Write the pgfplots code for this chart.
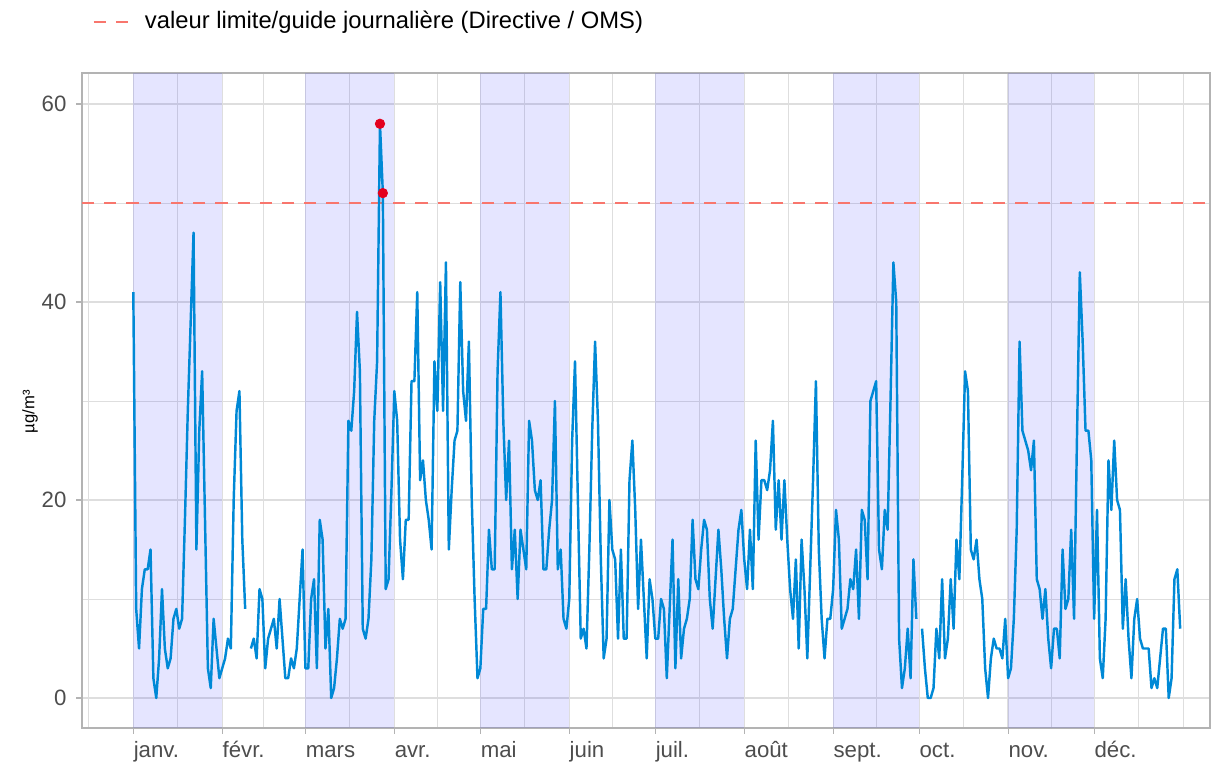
\documentclass[border=0pt]{standalone}
\usepackage{fontspec}
\setmainfont{Liberation Sans}
\usepackage{pgfplots}
\pgfplotsset{compat=1.18}
\usepackage{pgfplotstable}
\definecolor{lineblue}{RGB}{0,137,214}
\definecolor{gridc}{RGB}{222,222,222}
\definecolor{borderc}{RGB}{179,179,179}
\definecolor{limitc}{RGB}{248,118,109}
\definecolor{peakc}{RGB}{228,0,30}
\definecolor{ticklab}{RGB}{77,77,77}

\pgfplotstableread{
day val
0 41
1 9
2 5
3 11
4 13
5 13
6 15
7 2
8 0
9 4
10 11
11 5
12 3
13 4
14 8
15 9
16 7
17 8
18 18
19 29
20 38
21 47
22 15
23 27
24 33
25 18
26 3
27 1
28 8
29 5
30 2
31 3
32 4
33 6
34 5
35 20
36 29
37 31
38 16
39 9
40 nan
41 5
42 6
43 4
44 11
45 10
46 3
47 6
48 7
49 8
50 5
51 10
52 6
53 2
54 2
55 4
56 3
57 5
58 10
59 15
60 3
61 3
62 10
63 12
64 3
65 18
66 16
67 5
68 9
69 0
70 1
71 4
72 8
73 7
74 8
75 28
76 27
77 31
78 39
79 33
80 7
81 6
82 8
83 14
84 28
85 34
86 58
87 51
88 11
89 12
90 21
91 31
92 28
93 16
94 12
95 18
96 18
97 32
98 32
99 41
100 22
101 24
102 20
103 18
104 15
105 34
106 29
107 42
108 29
109 44
110 15
111 21
112 26
113 27
114 42
115 31
116 28
117 36
118 20
119 10
120 2
121 3
122 9
123 9
124 17
125 13
126 13
127 33
128 41
129 28
130 20
131 26
132 13
133 17
134 10
135 17
136 15
137 13
138 28
139 26
140 21
141 20
142 22
143 13
144 13
145 17
146 20
147 30
148 13
149 15
150 8
151 7
152 10
153 26
154 34
155 20
156 6
157 7
158 5
159 15
160 27
161 36
162 28
163 14
164 4
165 6
166 20
167 15
168 14
169 6
170 15
171 6
172 6
173 22
174 26
175 19
176 9
177 16
178 10
179 4
180 12
181 10
182 6
183 6
184 10
185 9
186 2
187 9
188 16
189 3
190 12
191 4
192 7
193 8
194 10
195 18
196 12
197 11
198 15
199 18
200 17
201 10
202 7
203 12
204 17
205 13
206 8
207 4
208 8
209 9
210 13
211 17
212 19
213 14
214 11
215 17
216 11
217 26
218 16
219 22
220 22
221 21
222 23
223 28
224 17
225 22
226 16
227 22
228 16
229 11
230 8
231 14
232 5
233 16
234 11
235 4
236 13
237 22
238 32
239 15
240 8
241 4
242 8
243 8
244 11
245 19
246 16
247 7
248 8
249 9
250 12
251 11
252 15
253 8
254 19
255 18
256 12
257 30
258 31
259 32
260 15
261 13
262 19
263 17
264 30
265 44
266 40
267 6
268 1
269 3
270 7
271 2
272 14
273 8
274 nan
275 7
276 3
277 0
278 0
279 1
280 7
281 4
282 12
283 4
284 6
285 12
286 7
287 16
288 12
289 22
290 33
291 31
292 15
293 14
294 16
295 12
296 10
297 3
298 0
299 4
300 6
301 5
302 5
303 4
304 8
305 2
306 3
307 8
308 17
309 36
310 27
311 26
312 25
313 23
314 26
315 12
316 11
317 8
318 11
319 6
320 3
321 7
322 7
323 4
324 15
325 9
326 10
327 17
328 8
329 26
330 43
331 36
332 27
333 27
334 24
335 8
336 19
337 4
338 2
339 8
340 24
341 19
342 26
343 20
344 19
345 7
346 12
347 6
348 2
349 8
350 10
351 6
352 5
353 5
354 5
355 1
356 2
357 1
358 4
359 7
360 7
361 0
362 2
363 12
364 13
365 7
}\data

\pgfplotstableread{
x0 x1
0 31
60 91
121 152
182 213
244 274
305 335
}\bands

\begin{document}
\begin{tikzpicture}[x=1pt,y=1pt]
\useasboundingbox (0,0) rectangle (548.1,343.35);
\begin{axis}[
  at={(36.9pt,15.75pt)}, anchor=south west,
  scale only axis, width=507.6pt, height=294.75pt,
  xmin=-17.89, xmax=375.4, ymin=-3.03, ymax=63.13,
  axis line style={borderc, line width=0.6pt},
  xtick={0,31,60,91,121,152,182,213,244,274,305,335},
  xticklabels={janv.,févr.,mars,avr.,mai,juin,juil.,août,sept.,oct.,nov.,déc.},
  minor xtick={-15.5,15.5,45.5,75.5,106,136.5,167,197.5,228.5,259,289.5,320,350.5,366},
  ytick={0,20,40,60},
  minor ytick={10,30,50},
  grid=both,
  major grid style={gridc, line width=0.55pt},
  minor grid style={gridc, line width=0.4pt},
  tick align=outside,
  major tick length=2.6pt,
  minor tick length=0pt,
  tick style={borderc, line width=0.5pt},
  xtick pos=bottom, ytick pos=left,
  /pgf/number format/assume math mode=true,
  xticklabel style={anchor=base west, inner sep=0pt, font=\fontsize{10}{12}\selectfont, text=ticklab, yshift=-10.8pt},
  yticklabel style={anchor=east, inner sep=0pt, font=\fontsize{10}{12}\selectfont, text=ticklab, xshift=-4.2pt},
  ylabel={µg/m³},
  every axis y label/.style={at={(axis description cs:-0.0461,0.483)}, rotate=90, anchor=center, font=\fontsize{7.5}{9}\selectfont},
  legend style={at={(axis description cs:0.0089,1.078)}, anchor=west, draw=none, fill=none, inner sep=0pt, font=\fontsize{10.7}{13}\selectfont, column sep=6.3pt, nodes={inner sep=0pt}},
  legend image code/.code={\draw[#1] (0pt,0pt) -- (16.2pt,0pt);},
]
\pgfplotsinvokeforeach{0,...,5}{
  \pgfplotstablegetelem{#1}{x0}\of\bands \let\xa\pgfplotsretval
  \pgfplotstablegetelem{#1}{x1}\of\bands \let\xb\pgfplotsretval
  \edef\tmp{\noexpand\addplot[draw=none, fill=blue, fill opacity=0.1, forget plot] coordinates {(\xa,-3.03) (\xb,-3.03) (\xb,63.13) (\xa,63.13)} -- cycle;}
  \tmp
}
\addplot[limitc, line width=1.1pt, dash pattern=on 5.5pt off 4.5pt] coordinates {(-17.89,50) (375.4,50)};
\addlegendentry{valeur limite/guide journalière (Directive / OMS)}
\addplot[lineblue, line width=1.1pt, line join=round, unbounded coords=jump, forget plot] table[x=day,y=val]{\data};
\addplot[only marks, mark=*, mark size=2.1pt, peakc, forget plot] coordinates {(86,58) (87,51)};
\end{axis}
\end{tikzpicture}
\end{document}
